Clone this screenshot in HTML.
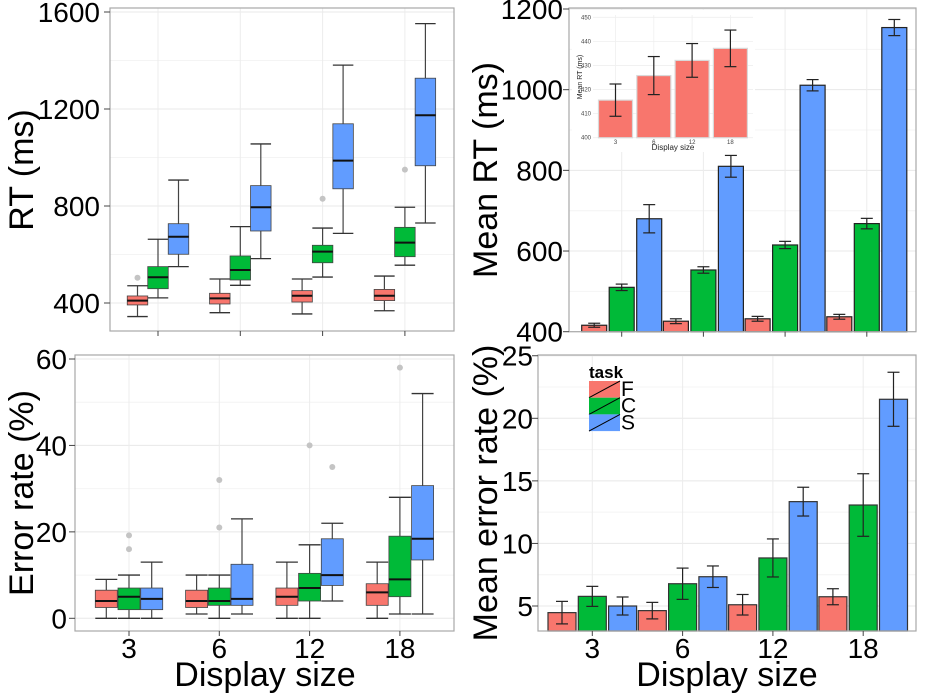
<!DOCTYPE html>
<html><head><meta charset="utf-8"><style>
html,body{margin:0;padding:0;background:#fff;}
svg{display:block;font-family:"Liberation Sans",sans-serif;}
</style></head><body>
<svg id="fig" width="925" height="693" viewBox="0 0 925 693" xmlns="http://www.w3.org/2000/svg"></svg>
<script>
// ---------- data ----------
const categories = ["3","6","12","18"];
const tasks = ["F","C","S"];
const taskColors = ["#F8766D","#00BA38","#619CFF"];
// RT boxplots: [low, q1, median, q3, high] per category for each task
const rtBoxF = [[344,392,410,429,471],[360,396,419,440,499],[355,404,430,451,499],[368,410,430,456,511]];
const rtBoxC = [[421,459,506,550,663],[473,495,536,594,715],[507,566,612,638,709],[556,591,649,712,795]];
const rtBoxS = [[550,601,673,727,907],[583,697,795,884,1056],[687,871,987,1139,1381],[730,966,1174,1327,1552]];
const rtOutF = [[504],[],[],[]];
const rtOutC = [[],[],[830],[950]];
const rtOutS = [[],[],[],[]];
const rtTicks = [400,800,1200,1600];
// Mean RT
const meanRtF = [416,426,432,437];
const meanRtC = [510,553,615,668];
const meanRtS = [680,810,1011,1154];
const meanRtErrF = [5,6,6,6];
const meanRtErrC = [8,8,9,13];
const meanRtErrS = [35,27,14,20];
const meanRtTicks = [400,600,800,1000,1200];
// Inset (feature task)
const insetMean = [415.6,425.8,432.1,437.1];
const insetErr = [6.7,7.9,7.0,7.6];
const insetTicks = [400,410,420,430,440,450];
// Error rate boxplots
const erBoxF = [[0,2.5,4,6.5,9],[1,2.5,4,6.5,10],[0,3,5,7,13],[0,3,6,8,13]];
const erBoxC = [[0,2,5,7,10],[0,3,4,7,10],[0,4,7,10.4,17],[1,5,9,19,28]];
const erBoxS = [[0,2,4.5,7,13],[1,3,4.5,12.5,23],[4,7.6,10,18.4,22],[1,13.5,18.4,30.7,52]];
const erOutF = [[],[],[],[]];
const erOutC = [[19.2,16],[32,21],[40],[58]];
const erOutS = [[],[],[35],[]];
const erTicks = [0,20,40,60];
// Mean error rate
const meanErF = [4.47,4.63,5.1,5.74];
const meanErC = [5.77,6.78,8.84,13.07];
const meanErS = [5.0,7.34,13.34,21.52];
const meanErErrF = [0.9,0.66,0.82,0.64];
const meanErErrC = [0.8,1.25,1.52,2.5];
const meanErErrS = [0.72,0.86,1.15,2.16];
const meanErTicks = [5,10,15,20,25];

// ---------- helpers ----------
const svg = document.getElementById('fig');
const NS = 'http://www.w3.org/2000/svg';
function mk(tag, attrs, parent){
  const e = document.createElementNS(NS, tag);
  for (const k in attrs) e.setAttribute(k, attrs[k]);
  (parent||svg).appendChild(e);
  return e;
}
function linY(v0, y0, v1, y1){ return v => y0 + (v - v0) * (y1 - y0) / (v1 - v0); }

function panel(name, p){
  const g = mk('g', {});
  
  
  mk('rect', {x:p.x0, y:p.y0, width:p.x1-p.x0, height:p.y1-p.y0, fill:'#fff'}, g);
  // minor grid
  p.minor.forEach(v => { const y=p.ys(v); if(y>p.y0&&y<p.y1) mk('line',{x1:p.x0,x2:p.x1,y1:y,y2:y,stroke:'#f4f4f4','stroke-width':1},g); });
  p.ticks.forEach(v => { const y=p.ys(v); if(y>=p.y0-1&&y<=p.y1+1) mk('line',{x1:p.x0,x2:p.x1,y1:y,y2:y,stroke:'#e8e8e8','stroke-width':1},g); });
  categories.forEach((c,i) => { const x=p.xs(i); mk('line',{x1:x,x2:x,y1:p.y0,y2:p.y1,stroke:'#ececec','stroke-width':1},g); });
  return g;
}
function frame(name, p, showX){
  const g = mk('g', {});
  
  
  mk('rect', {x:p.x0, y:p.y0, width:p.x1-p.x0, height:p.y1-p.y0, fill:'none', stroke:'#a8a8a8','stroke-width':1.2}, g);
  p.ticks.forEach(v => {
    const y = p.ys(v);
    mk('line',{x1:p.x0-6,x2:p.x0,y1:y,y2:y,stroke:'#444','stroke-width':1},g);
    const t = mk('text',{x:p.labX,y:y+10,'text-anchor':'end','font-size':28,fill:'#000'},g);
    t.textContent = v;
    
    
  });
  categories.forEach((c,i) => {
    const x = p.xs(i);
    mk('line',{x1:x,x2:x,y1:p.y1,y2:p.y1+5,stroke:'#444','stroke-width':1},g);
    if (showX){
      const t = mk('text',{x:x,y:658,'text-anchor':'middle','font-size':28,fill:'#000'},g);
      t.textContent = c;
      
      
    }
  });
}
function ytitle(txt, x, y, name){
  const t = mk('text',{x:0,y:0,transform:`translate(${x},${y}) rotate(-90)`,'text-anchor':'middle','font-size':34,fill:'#000'});
  t.textContent = txt;
  
  
}
function xtitle(txt, x, name){
  const t = mk('text',{x:x,y:686,'text-anchor':'middle','font-size':34,fill:'#000'});
  t.textContent = txt;
  
  
}
function boxes(p, sets, outs, prefix){
  const g = mk('g', {});
  
  
  sets.forEach((set, k) => {
    set.forEach((b, i) => {
      const cx = p.xs(i) + (k-1)*p.dodge, w = p.w;
      const [lo,q1,md,q3,hi] = b.map(p.ys);
      const bg = mk('g', {}, g);
      
      
      mk('line',{x1:cx,x2:cx,y1:hi,y2:q3,stroke:'#444','stroke-width':1.2},bg);
      mk('line',{x1:cx,x2:cx,y1:q1,y2:lo,stroke:'#444','stroke-width':1.2},bg);
      mk('line',{x1:cx-w/2,x2:cx+w/2,y1:hi,y2:hi,stroke:'#333','stroke-width':1.3},bg);
      mk('line',{x1:cx-w/2,x2:cx+w/2,y1:lo,y2:lo,stroke:'#333','stroke-width':1.3},bg);
      mk('rect',{x:cx-w/2,y:q3,width:w,height:Math.max(q1-q3,1),fill:taskColors[k],stroke:'#444','stroke-width':0.8},bg);
      mk('line',{x1:cx-w/2,x2:cx+w/2,y1:md,y2:md,stroke:'#111','stroke-width':2},bg);
      outs[k][i].forEach(v => {
        const c = mk('circle',{cx:cx,cy:p.ys(v),r:3,fill:'#c4c4c4'},g);
        
        
      });
    });
  });
}
function bars(p, means, errs, prefix, colors, stroke){
  const g = mk('g', {});
  
  
  const n = means.length;
  means.forEach((series, k) => {
    series.forEach((v, i) => {
      const cx = p.xs(i) + (n>1 ? (k-(n-1)/2)*p.dodge : 0), w = p.w;
      const y = p.ys(v), yb = p.y1;
      const r = mk('rect',{x:cx-w/2,y:y,width:w,height:yb-y,fill:colors[k],stroke:stroke,'stroke-width':1.2},g);
      
      
      const e = errs[k][i], yt = p.ys(v+e), yl = p.ys(v-e), ew = p.ew;
      mk('line',{x1:cx,x2:cx,y1:yt,y2:yl,stroke:'#222','stroke-width':1.2},g);
      mk('line',{x1:cx-ew,x2:cx+ew,y1:yt,y2:yt,stroke:'#222','stroke-width':1.2},g);
      mk('line',{x1:cx-ew,x2:cx+ew,y1:yl,y2:yl,stroke:'#222','stroke-width':1.2},g);
    });
  });
}

// ---------- panel A: RT boxplots ----------
const pA = {x0:110,x1:454,y0:8,y1:331,ys:linY(400,303,1600,12),xs:i=>158+i*82.3,dodge:20.5,w:20.5,
  ticks:rtTicks,minor:[600,1000,1400],labX:100};
panel('rt-boxplot-panel', pA);
boxes(pA, [rtBoxF, rtBoxC, rtBoxS], [rtOutF, rtOutC, rtOutS], 'rt');
frame('rt-axes', pA, false);
ytitle('RT (ms)', 33, 170, 'rt-y-axis-title');

// ---------- panel B: mean RT bars ----------
const pB = {x0:569,x1:916,y0:8,y1:331.7,ys:linY(400,331.7,1200,9),xs:i=>621.7+i*81.7,dodge:27.5,w:25,ew:6,
  ticks:meanRtTicks,minor:[500,700,900,1100],labX:563};
panel('mean-rt-panel', pB);
bars(pB, [meanRtF, meanRtC, meanRtS], [meanRtErrF, meanRtErrC, meanRtErrS], 'mean-rt', taskColors, '#222');
frame('mean-rt-axes', pB, false);
ytitle('Mean RT (ms)', 497, 170, 'mean-rt-y-axis-title');

// inset
const inset = mk('g', {});


mk('rect',{x:572,y:10,width:183,height:142,fill:'#fff'},inset);
const pI = {x0:593,x1:753,y0:15,y1:137.7,ys:linY(400,137.7,450,17.3),xs:i=>615.5+i*38.3,w:34,ew:6};
insetTicks.forEach(v => { mk('line',{x1:pI.x0,x2:pI.x1,y1:pI.ys(v),y2:pI.ys(v),stroke:'#efefef','stroke-width':0.8},inset); });
categories.forEach((c,i) => { mk('line',{x1:pI.xs(i),x2:pI.xs(i),y1:pI.y0,y2:pI.y1,stroke:'#efefef','stroke-width':0.8},inset); });
bars(pI, [insetMean], [insetErr], 'inset', ['#F8766D'], '#d9d9d9');
insetTicks.forEach(v => {
  const t = mk('text',{x:591,y:pI.ys(v)+2,'text-anchor':'end','font-size':6,fill:'#444'},inset);
  t.textContent = v;
  
  
});
categories.forEach((c,i) => {
  const t = mk('text',{x:pI.xs(i),y:144,'text-anchor':'middle','font-size':6,fill:'#444'},inset);
  t.textContent = c;
  
  
});
{
  const t = mk('text',{x:673,y:150,'text-anchor':'middle','font-size':8,fill:'#222'},inset);
  t.textContent = 'Display size';
  
  
  const t2 = mk('text',{x:0,y:0,transform:'translate(582,77) rotate(-90)','text-anchor':'middle','font-size':7,fill:'#222'},inset);
  t2.textContent = 'Mean RT (ms)';
  
  
}

// ---------- panel C: error rate boxplots ----------
const pC = {x0:75,x1:454,y0:355,y1:631,ys:linY(0,618.3,60,359),xs:i=>129+i*90.3,dodge:22.7,w:22,
  ticks:erTicks,minor:[10,30,50],labX:67};
panel('error-boxplot-panel', pC);
boxes(pC, [erBoxF, erBoxC, erBoxS], [erOutF, erOutC, erOutS], 'error');
frame('error-axes', pC, true);
ytitle('Error rate (%)', 33, 493, 'error-y-axis-title');
xtitle('Display size', 265, 'error-x-axis-title');

// ---------- panel D: mean error rate bars ----------
const pD = {x0:538,x1:916,y0:355,y1:631,ys:linY(5,606,20,418.3),xs:i=>592.3+i*90.3,dodge:30.3,w:28,ew:6,
  ticks:meanErTicks,minor:[7.5,12.5,17.5,22.5],labX:533};
panel('mean-error-panel', pD);
bars(pD, [meanErF, meanErC, meanErS], [meanErErrF, meanErErrC, meanErErrS], 'mean-error', taskColors, '#333');
frame('mean-error-axes', pD, true);
ytitle('Mean error rate (%)', 497, 493, 'mean-error-y-axis-title');
xtitle('Display size', 727, 'mean-error-x-axis-title');

// legend
const lg = mk('g', {});


{
  const t = mk('text',{x:589,y:378,'font-size':17,'font-weight':'bold',fill:'#000'},lg);
  t.textContent = 'task';
  
  
}
tasks.forEach((tk,k) => {
  const y = 381 + k*16.7;
  const e = mk('g', {}, lg);
  
  
  mk('rect',{x:589,y:y,width:31,height:16.7,fill:taskColors[k]},e);
  mk('line',{x1:589,y1:y+16.7,x2:620,y2:y,stroke:'#000','stroke-width':1},e);
  const t = mk('text',{x:621,y:y+15,'font-size':21,fill:'#000'},e);
  t.textContent = tk;
});
</script>
</body></html>
